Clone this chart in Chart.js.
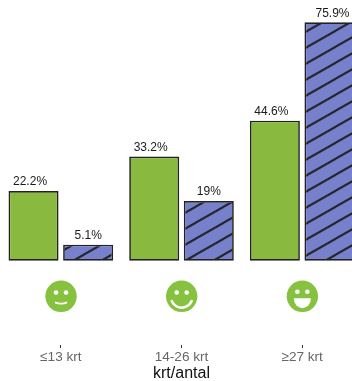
<!DOCTYPE html>
<html><head><meta charset="utf-8">
<style>html,body{margin:0;padding:0;background:#fff;overflow:hidden;width:352px;height:381px}canvas{display:block}</style>
<script src="https://cdn.jsdelivr.net/npm/chart.js@4"></script>
</head><body><canvas id="c" width="363" height="381"></canvas>
<script>
const categories = ['≤13 krt', '14-26 krt', '≥27 krt'];
const krtValues = [22.2, 33.2, 44.6];
const antalValues = [5.1, 19, 75.9];
const krtLabels = ['22.2%', '33.2%', '44.6%'];
const antalLabels = ['5.1%', '19%', '75.9%'];
const axisTitle = 'krt/antal';
const faceLevel = -11.34;

function hatch() {
  const w = 28, h = 16, t = document.createElement('canvas');
  t.width = w; t.height = h;
  const g = t.getContext('2d');
  g.fillStyle = '#7780cb'; g.fillRect(0, 0, w, h);
  g.strokeStyle = '#24252f'; g.lineWidth = 2.2;
  for (let k = -1; k <= 2; k++) {
    const y0 = 14.6 + k * h;
    g.beginPath(); g.moveTo(-2, y0 + 2 * h / w); g.lineTo(w + 2, y0 - (w + 2) * h / w); g.stroke();
  }
  return document.getElementById('c').getContext('2d').createPattern(t, 'repeat');
}

const labelShift = (d, i) => d === 0 ? -3.5 : (i === 2 ? 3 : 0);

const overlay = {
  id: 'overlay',
  afterDatasetsDraw(chart) {
    const ctx = chart.ctx;
    ctx.save();
    ctx.font = '12px "Liberation Sans"';
    ctx.fillStyle = '#1a1a1a';
    ctx.textAlign = 'center'; ctx.textBaseline = 'alphabetic';
    [krtLabels, antalLabels].forEach((labels, d) => {
      chart.getDatasetMeta(d).data.forEach((bar, i) => ctx.fillText(labels[i], bar.x + labelShift(d, i), bar.y - 5.7));
    });
    const cy = chart.scales.y.getPixelForValue(faceLevel);
    categories.forEach((_, i) => {
      const cx = chart.scales.x.getPixelForValue(i) + 0.2, r = 15.7;
      ctx.fillStyle = '#86c23f';
      ctx.beginPath(); ctx.arc(cx, cy, r, 0, Math.PI * 2); ctx.fill();
      ctx.fillStyle = '#fff'; ctx.strokeStyle = '#fff';
      const ey = i === 2 ? cy - 4.6 : cy - 3.8;
      [-5, 5].forEach(dx => { ctx.beginPath(); ctx.arc(cx + dx, ey, 2.3, 0, Math.PI * 2); ctx.fill(); });
      if (i === 0) {
        ctx.lineWidth = 1.8;
        ctx.beginPath(); ctx.moveTo(cx - 6, cy + 6); ctx.quadraticCurveTo(cx, cy + 8.5, cx + 6, cy + 6); ctx.stroke();
      } else if (i === 1) {
        ctx.lineWidth = 2.5;
        ctx.beginPath(); ctx.arc(cx, cy + 0.5, 10.8, 0.1 * Math.PI, 0.9 * Math.PI); ctx.stroke();
      } else {
        ctx.beginPath(); ctx.ellipse(cx, cy + 2, 8.6, 10, 0, 0, Math.PI); ctx.closePath(); ctx.fill();
      }
    });
    ctx.restore();
  }
};

new Chart(document.getElementById('c'), {
  type: 'bar',
  data: {
    labels: categories,
    datasets: [
      { data: krtValues, backgroundColor: '#89b93f', borderColor: '#222', borderWidth: 1.7, borderSkipped: false, categoryPercentage: 0.905, barPercentage: 0.916 },
      { data: antalValues, backgroundColor: hatch(), borderColor: '#222', borderWidth: 1.7, borderSkipped: false, categoryPercentage: 0.905, barPercentage: 0.916 }
    ]
  },
  options: {
    responsive: false,
    animation: false,
    layout: { padding: { left: 0.5, right: 0.5, top: 0, bottom: 0 } },
    plugins: { legend: { display: false }, tooltip: { enabled: false } },
    scales: {
      x: {
        afterFit: s => { s.height = 36; },
        border: { display: false },
        grid: { offset: false, drawOnChartArea: false, drawTicks: true, tickLength: 3, color: '#333' },
        ticks: { color: '#666', font: { family: '"Liberation Sans"', size: 13.6 }, padding: 1, maxRotation: 0, autoSkip: false },
        title: { display: true, text: axisTitle, color: '#111', font: { family: '"Liberation Sans"', size: 16 }, padding: { top: 0, bottom: -2 } }
      },
      y: { display: false, min: -26.85, max: 83.02 }
    }
  },
  plugins: [overlay]
});
</script></body></html>
